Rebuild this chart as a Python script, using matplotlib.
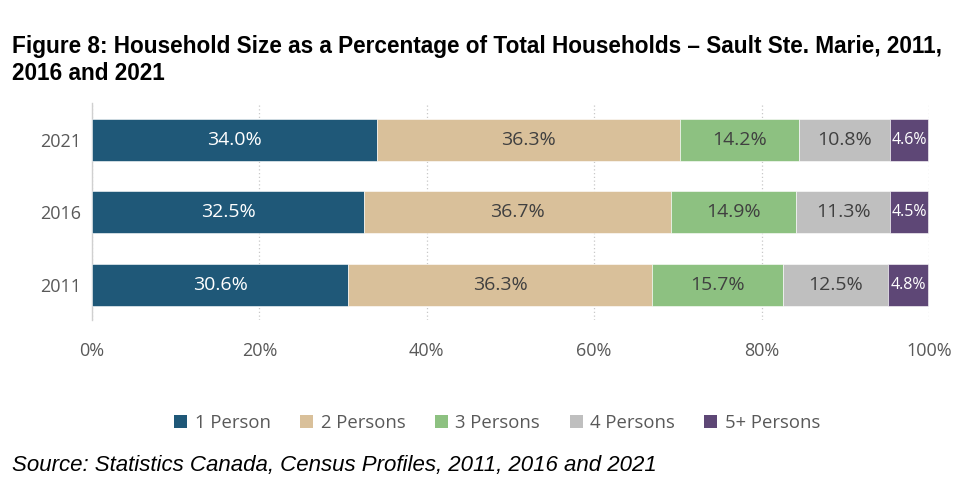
import numpy as np
import matplotlib
matplotlib.use("Agg")
from matplotlib import pyplot as plt
from matplotlib.patches import Patch

years = ["2011", "2016", "2021"]
categories = ["1 Person", "2 Persons", "3 Persons", "4 Persons", "5+ Persons"]
one_person = [30.6, 32.5, 34.0]
two_persons = [36.3, 36.7, 36.3]
three_persons = [15.7, 14.9, 14.2]
four_persons = [12.5, 11.3, 10.8]
five_plus = [4.8, 4.5, 4.6]
series = [one_person, two_persons, three_persons, four_persons, five_plus]

colors = ["#1F5878", "#D9C09A", "#8DC181", "#BFBFBF", "#5E4776"]
text_colors = ["white", "#404040", "#404040", "#404040", "white"]
label_sizes = [14, 14, 14, 14, 11.5]

fig = plt.figure(figsize=(9.6, 5.0), dpi=100)
ax = fig.add_axes([0.0958, 0.36, 0.8719, 0.434])

y = np.arange(len(years))
left = np.zeros(len(years))
for vals, c, tc, fs in zip(series, colors, text_colors, label_sizes):
    vals = np.array(vals)
    bars = ax.barh(y, vals, left=left, height=0.58, color=c,
                   edgecolor="white", linewidth=0.4, zorder=3)
    for b, v in zip(bars, vals):
        ax.text(b.get_x() + b.get_width() / 2, b.get_y() + b.get_height() / 2,
                f"{v:.1f}%", ha="center", va="center", color=tc,
                fontsize=fs, family="Open Sans", zorder=4)
    left = left + vals

ax.set_xlim(0, 100)
ax.set_ylim(-0.49, 2.51)
ax.set_xticks([0, 20, 40, 60, 80, 100])
ax.set_xticklabels(["0%", "20%", "40%", "60%", "80%", "100%"])
ax.set_yticks(y)
ax.set_yticklabels(years)
ax.tick_params(length=0, labelsize=13, labelcolor="#595959", pad=8)
ax.tick_params(axis="x", pad=16)
for lab in ax.get_xticklabels() + ax.get_yticklabels():
    lab.set_family("Open Sans")
ax.grid(axis="x", linestyle=(0, (1, 2)), color="#C8C8C8", linewidth=0.9, zorder=0)
for s in ["top", "right", "bottom"]:
    ax.spines[s].set_visible(False)
ax.spines["left"].set_color("#D0D0D0")
ax.spines["left"].set_linewidth(1.0)

handles = [Patch(facecolor=c, label=n) for c, n in zip(colors, categories)]
leg = fig.legend(handles=handles, loc="center", bbox_to_anchor=(0.518, 0.155),
                 ncol=5, frameon=False, handlelength=0.7,
                 handleheight=0.7, handletextpad=0.4, columnspacing=1.6,
                 prop={"family": "Open Sans", "size": 13.3})
for t in leg.get_texts():
    t.set_color("#595959")

fig.text(0.0125, 0.88,
         "Figure 8: Household Size as a Percentage of Total Households \u2013 Sault Ste. Marie, 2011,\n2016 and 2021",
         fontsize=16.3, fontweight="bold", family="Liberation Sans",
         ha="left", va="center", linespacing=1.25)
fig.text(0.0125, 0.07, "Source: Statistics Canada, Census Profiles, 2011, 2016 and 2021",
         fontsize=16, style="italic", family="Liberation Sans", ha="left", va="center")

fig.savefig("out.png", dpi=100)
